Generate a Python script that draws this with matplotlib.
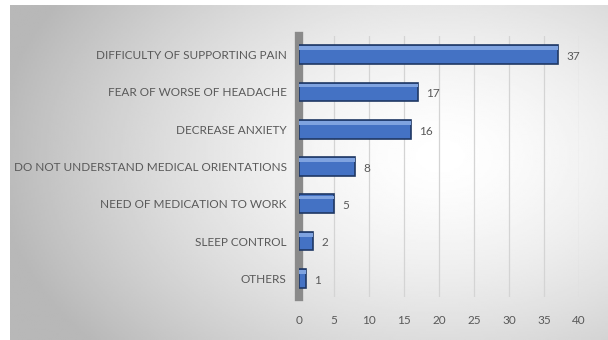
import numpy as np
import matplotlib
matplotlib.use("Agg")
import matplotlib.pyplot as plt

categories = [
    "DIFFICULTY OF SUPPORTING PAIN",
    "FEAR OF WORSE OF HEADACHE",
    "DECREASE ANXIETY",
    "DO NOT UNDERSTAND MEDICAL ORIENTATIONS",
    "NEED OF MEDICATION TO WORK",
    "SLEEP CONTROL",
    "OTHERS",
]
counts = [37, 17, 16, 8, 5, 2, 1]
x_ticks = [0, 5, 10, 15, 20, 25, 30, 35, 40]

plt.rcParams["font.family"] = ["Lato", "DejaVu Sans"]
text_color = "#595959"

W, H = 608, 340
fig = plt.figure(figsize=(W / 100, H / 100), dpi=100)
fig.patch.set_facecolor("white")

# grey radial background panel
bg = fig.add_axes([10 / W, 0, (W - 10) / W, (H - 5) / H])
yy, xx = np.mgrid[0:1:200j, 0:1:300j]
dist = np.sqrt(((xx - 0.72) / 1.0) ** 2 + ((yy - 0.45) / 1.2) ** 2)
shade = 1.0 - 0.28 * np.clip(dist / 0.75, 0, 1) ** 1.5
bg.imshow(shade, cmap="gray", vmin=0, vmax=1, aspect="auto", extent=[0, 1, 0, 1])
bg.set_axis_off()

ax = fig.add_axes([299 / W, (H - 297) / H, 280 / W, 261 / H])
ax.patch.set_alpha(0)

pos = np.arange(len(categories))
ax.barh(pos, counts, height=0.5, color="#4472c4", edgecolor="#1f3864", linewidth=1.2, zorder=3)
# lighter top face strip for a bit of the 3D look
ax.barh(pos - 0.17, counts, height=0.1, color="#7fa3e0", linewidth=0, zorder=4)
for p, v in zip(pos, counts):
    ax.text(v + 1.2, p + 0.05, str(v), va="center", ha="left", fontsize=8.5, color=text_color)

ax.set_ylim(len(categories) - 0.5, -0.5)
ax.set_xlim(0, 40)
ax.set_yticks(pos)
ax.set_yticklabels(categories, fontsize=8.5, color=text_color)
ax.set_xticks(x_ticks)
ax.set_xticklabels([str(t) for t in x_ticks], fontsize=8.5, color=text_color)
ax.tick_params(axis="both", length=0)
ax.tick_params(axis="x", pad=13)
ax.tick_params(axis="y", pad=9)
ax.grid(axis="x", color="#d4d4d4", linewidth=0.9, zorder=0)
for s in ["top", "right", "bottom"]:
    ax.spines[s].set_visible(False)
ax.spines["left"].set_color("#8a8a8a")
ax.spines["left"].set_linewidth(6)

fig.savefig("out.png", dpi=100)
